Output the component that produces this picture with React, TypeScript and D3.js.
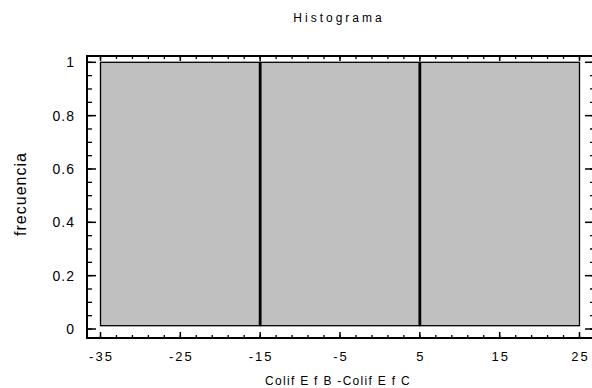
import React from "react";
import * as d3 from "d3";

const binEdges = [-35, -15, 5, 25];
const frequencies = [1, 1, 1];
const xTickValues = [-35, -25, -15, -5, 5, 15, 25];
const yTickValues = [0, 0.2, 0.4, 0.6, 0.8, 1];
const titleText = "Histograma";
const xAxisTitle = "Colif E f B -Colif E f C";
const yAxisTitle = "frecuencia";

const W = 592;
const H = 388;
const frame = { left: 87, top: 56, right: 593, bottom: 338 };
const FONT = "'Liberation Sans', Arial, sans-serif";

export default function App() {
  const x = d3.scaleLinear().domain([-35, 25]).range([100.5, 579.5]);
  const y = d3.scaleLinear().domain([0, 1]).range([329, 62.3]);
  const xMinor = d3.range(-35, 25.001, 2);
  const yMinor = d3.range(0, 1.0001, 0.05);
  const bars = frequencies.map((f, i) => ({ lo: binEdges[i], hi: binEdges[i + 1], f }));
  const inner = binEdges.slice(1, -1);
  const barBottom = y(0) - 3.3;

  return (
    <svg
      width={W}
      height={H}
      style={{ position: "absolute", left: 0, top: 0, background: "#fff" }}
      fontFamily={FONT}
    >
      <rect x={0} y={0} width={W} height={H} fill="#fff" />
      {bars.map((b, i) => (
        <rect
          key={i}
          x={x(b.lo)}
          y={y(b.f)}
          width={x(b.hi) - x(b.lo)}
          height={barBottom - y(b.f)}
          fill="#c0c0c0"
          stroke="#000"
          strokeWidth={1.3}
        />
      ))}
      {inner.map((e, i) => (
        <line
          key={i}
          x1={x(e)}
          x2={x(e)}
          y1={y(1)}
          y2={barBottom}
          stroke="#000"
          strokeWidth={2.8}
        />
      ))}
      <path
        d={`M${frame.right},${frame.top}H${frame.left}V${frame.bottom}H${frame.right}`}
        fill="none"
        stroke="#000"
        strokeWidth={2}
      />
      {xMinor.map((v, i) => (
        <g key={"xm" + i} stroke="#000" strokeWidth={1.3}>
          <line x1={x(v)} x2={x(v)} y1={frame.bottom} y2={frame.bottom - 3} />
          <line x1={x(v)} x2={x(v)} y1={frame.top} y2={frame.top + 3} />
        </g>
      ))}
      {xTickValues.map((v, i) => (
        <g key={"xM" + i}>
          <line x1={x(v)} x2={x(v)} y1={frame.bottom} y2={frame.bottom - 6} stroke="#000" strokeWidth={1.5} />
          <line x1={x(v)} x2={x(v)} y1={frame.top} y2={frame.top + 5} stroke="#000" strokeWidth={1.5} />
          <text
            x={x(v) + 1}
            y={361}
            textAnchor="middle"
            fontSize={13}
            letterSpacing={2}
            fill="#000"
          >
            {String(v)}
          </text>
        </g>
      ))}
      {yMinor.map((v, i) => (
        <g key={"ym" + i} stroke="#000" strokeWidth={1.3}>
          <line x1={frame.left} x2={frame.left + 5} y1={y(v)} y2={y(v)} />
          <line x1={frame.right} x2={frame.right - 3} y1={y(v)} y2={y(v)} />
        </g>
      ))}
      {yTickValues.map((v, i) => (
        <g key={"yM" + i}>
          <line x1={frame.left} x2={frame.left + 9} y1={y(v)} y2={y(v)} stroke="#000" strokeWidth={1.5} />
          <line x1={frame.right} x2={frame.right - 8} y1={y(v)} y2={y(v)} stroke="#000" strokeWidth={1.5} />
          <text
            x={75}
            y={y(v)}
            dy="0.36em"
            textAnchor="end"
            fontSize={14}
            letterSpacing={1}
            fill="#000"
          >
            {String(v)}
          </text>
        </g>
      ))}
      <text x={339} y={22} textAnchor="middle" fontSize={12} letterSpacing={3} fill="#000">
        {titleText}
      </text>
      <text x={338} y={385} textAnchor="middle" fontSize={12} letterSpacing={1.3} fill="#000">
        {xAxisTitle}
      </text>
      <text
        transform="translate(20,194) rotate(-90)"
        textAnchor="middle"
        dy="0.36em"
        fontSize={16}
        letterSpacing={1}
        fill="#000"
      >
        {yAxisTitle}
      </text>
    </svg>
  );
}
